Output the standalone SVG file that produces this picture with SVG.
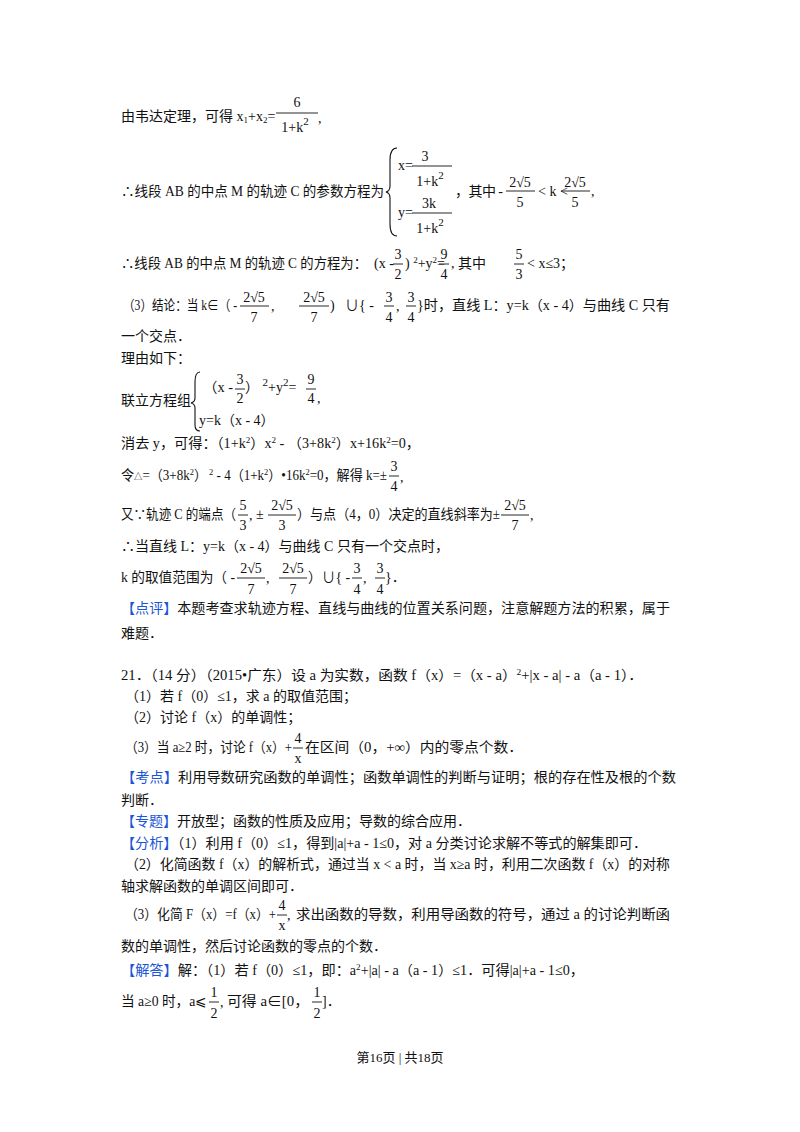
<svg xmlns="http://www.w3.org/2000/svg" width="800" height="1132" viewBox="0 0 800 1132">
<style>
text{font-family:"Liberation Serif","Noto Sans CJK SC",serif;font-size:14px;fill:#111}
.c{text-anchor:middle}
.sm{font-size:13px}
.b{fill:#1a56d6}
.bar{stroke:#111;stroke-width:0.9}
.br{fill:none;stroke:#111;stroke-width:1.1}
</style>
<rect width="800" height="1132" fill="#fff"/>
<text x="121" y="121">由韦达定理，可得 x<tspan font-size="9" dy="2">1</tspan><tspan dy="-2">+x</tspan><tspan font-size="9" dy="2">2</tspan><tspan dy="-2">=</tspan></text>
<text class="c" x="297" y="107">6</text><line class="bar" x1="276" y1="113" x2="318" y2="113"/><text class="c" x="295" y="132">1+k<tspan font-size="11" dy="-7">2</tspan></text><text x="318" y="123">,</text>
<text x="121" y="196" textLength="263" lengthAdjust="spacingAndGlyphs">∴线段 AB 的中点 M 的轨迹 C 的参数方程为</text>
<path class="br" d="M397,148 Q390,148 390,160 L390,186 Q390,191 386,192 Q390,193 390,198 L390,224 Q390,236 397,236"/>
<text x="398" y="170">x=</text><text class="c" x="425" y="161">3</text><line class="bar" x1="412" y1="166" x2="452" y2="166"/><text class="c" x="430" y="186">1+k<tspan font-size="11" dy="-7">2</tspan></text>
<text x="398" y="217">y=</text><text class="c" x="429" y="208">3k</text><line class="bar" x1="412" y1="213" x2="452" y2="213"/><text class="c" x="430" y="233">1+k<tspan font-size="11" dy="-7">2</tspan></text>
<text x="455" y="196" textLength="48" lengthAdjust="spacing">，其中 -</text>
<text class="c" x="520" y="187">2√5</text><line class="bar" x1="506" y1="191" x2="535" y2="191"/><text class="c" x="520" y="207">5</text>
<text x="538" y="196">&lt; k &lt;</text>
<text class="c" x="575" y="187">2√5</text><line class="bar" x1="561" y1="191" x2="590" y2="191"/><text class="c" x="575" y="207">5</text><text x="591" y="196">,</text>
<text x="121" y="268" textLength="246" lengthAdjust="spacingAndGlyphs">∴线段 AB 的中点 M 的轨迹 C 的方程为：</text>
<text x="374" y="268">(x -</text><text class="c" x="398" y="259">3</text><line class="bar" x1="393" y1="264" x2="403" y2="264"/><text class="c" x="398" y="279">2</text>
<text x="405" y="268">) <tspan font-size="9" dy="-5">2</tspan><tspan dy="5">+y</tspan><tspan font-size="9" dy="-5">2</tspan><tspan dy="5">=</tspan></text>
<text class="c" x="444" y="259">9</text><line class="bar" x1="439" y1="264" x2="449" y2="264"/><text class="c" x="444" y="279">4</text>
<text x="451" y="268">, 其中</text>
<text class="c" x="519" y="259">5</text><line class="bar" x1="514" y1="264" x2="524" y2="264"/><text class="c" x="519" y="279">3</text>
<text x="527" y="268">&lt; x≤3；</text>
<text x="123" y="310" textLength="114" lengthAdjust="spacingAndGlyphs">（3）结论：当 k∈（ -</text>
<text class="c" x="254" y="302">2√5</text><line class="bar" x1="240" y1="306" x2="269" y2="306"/><text class="c" x="254" y="322">7</text><text x="271" y="311">,</text>
<text class="c" x="314" y="302">2√5</text><text x="330" y="310">)</text><line class="bar" x1="299" y1="306" x2="329" y2="306"/><text class="c" x="314" y="322">7</text>
<text x="345" y="310">∪{ -</text>
<text class="c" x="389" y="302">3</text><line class="bar" x1="384" y1="306" x2="394" y2="306"/><text class="c" x="389" y="322">4</text><text x="396" y="311">,</text>
<text class="c" x="411" y="302">3</text><line class="bar" x1="406" y1="306" x2="416" y2="306"/><text class="c" x="411" y="322">4</text>
<text x="417" y="310" textLength="253" lengthAdjust="spacingAndGlyphs">}时，直线 L：y=k（x - 4）与曲线 C 只有</text>
<text x="121" y="341">一个交点．</text>
<text x="121" y="363">理由如下：</text>
<text x="121" y="405">联立方程组</text>
<path class="br" d="M200,372 Q195,372 195,382 L195,398 Q195,402 191,403 Q195,404 195,408 L195,425 Q195,431 200,431"/>
<text x="203" y="392" textLength="30" lengthAdjust="spacingAndGlyphs">（x -</text><text class="c" x="240" y="384">3</text><line class="bar" x1="235" y1="389" x2="245" y2="389"/><text class="c" x="240" y="403">2</text>
<text x="245" y="392">） <tspan font-size="11" dy="-6">2</tspan><tspan dy="6">+y</tspan><tspan font-size="11" dy="-6">2</tspan><tspan dy="6">=</tspan></text>
<text class="c" x="311" y="384">9</text><line class="bar" x1="306" y1="389" x2="316" y2="389"/><text class="c" x="311" y="403">4</text><text x="317" y="403">,</text>
<text x="199" y="425">y=k（x - 4）</text>
<text x="121" y="448" textLength="299" lengthAdjust="spacingAndGlyphs">消去 y，可得：（1+k<tspan font-size="9" dy="-5">2</tspan><tspan dy="5">）x</tspan><tspan font-size="9" dy="-5">2</tspan><tspan dy="5"> - （3+8k</tspan><tspan font-size="9" dy="-5">2</tspan><tspan dy="5">）x+16k</tspan><tspan font-size="9" dy="-5">2</tspan><tspan dy="5">=0，</tspan></text>
<text x="121" y="480" textLength="266" lengthAdjust="spacingAndGlyphs">令<tspan font-size="9">△</tspan>=（3+8k<tspan font-size="9" dy="-5">2</tspan><tspan dy="5">）</tspan><tspan font-size="9" dy="-5"> 2</tspan><tspan dy="5"> - 4（1+k</tspan><tspan font-size="9" dy="-5">2</tspan><tspan dy="5">）•16k</tspan><tspan font-size="9" dy="-5">2</tspan><tspan dy="5">=0，解得 k=±</tspan></text>
<text class="c" x="394" y="471">3</text><line class="bar" x1="389" y1="476" x2="399" y2="476"/><text class="c" x="394" y="491">4</text><text x="400" y="482">,</text>
<text x="121" y="519" textLength="115" lengthAdjust="spacingAndGlyphs">又∵轨迹 C 的端点（</text>
<text class="c" x="243" y="510">5</text><line class="bar" x1="238" y1="515" x2="248" y2="515"/><text class="c" x="243" y="530">3</text><text x="249" y="520">,</text>
<text x="256" y="519">±</text><text class="c" x="282" y="510">2√5</text><line class="bar" x1="268" y1="515" x2="296" y2="515"/><text class="c" x="282" y="530">3</text>
<text x="297" y="519" textLength="203" lengthAdjust="spacingAndGlyphs">）与点（4，0）决定的直线斜率为±</text>
<text class="c" x="515" y="510">2√5</text><line class="bar" x1="501" y1="515" x2="529" y2="515"/><text class="c" x="515" y="530">7</text><text x="530" y="520">,</text>
<text x="121" y="551">∴当直线 L：y=k（x - 4）与曲线 C 只有一个交点时，</text>
<text x="121" y="582" textLength="114" lengthAdjust="spacingAndGlyphs">k 的取值范围为（ -</text>
<text class="c" x="251" y="573">2√5</text><line class="bar" x1="237" y1="578" x2="265" y2="578"/><text class="c" x="251" y="594">7</text><text x="266" y="583">,</text>
<text class="c" x="293" y="573">2√5</text><line class="bar" x1="279" y1="578" x2="307" y2="578"/><text class="c" x="293" y="594">7</text>
<text x="308" y="582" textLength="42" lengthAdjust="spacingAndGlyphs">）∪{ -</text>
<text class="c" x="357" y="573">3</text><line class="bar" x1="352" y1="578" x2="362" y2="578"/><text class="c" x="357" y="594">4</text><text x="363" y="583">,</text>
<text class="c" x="380" y="573">3</text><line class="bar" x1="375" y1="578" x2="385" y2="578"/><text class="c" x="380" y="594">4</text><text x="385" y="582">}．</text>
<text x="121" y="613" textLength="549" lengthAdjust="spacingAndGlyphs"><tspan class="b">【点评】</tspan>本题考查求轨迹方程、直线与曲线的位置关系问题，注意解题方法的积累，属于</text>
<text x="121" y="638">难题．</text>
<text x="121" y="680" textLength="522" lengthAdjust="spacingAndGlyphs">21．（14 分）（2015•广东）设 a 为实数，函数 f（x）=（x - a）<tspan font-size="9" dy="-5">2</tspan><tspan dy="5">+|x - a| - a（a - 1）．</tspan></text>
<text x="125" y="701">（1）若 f（0）≤1，求 a 的取值范围；</text>
<text x="125" y="722">（2）讨论 f（x）的单调性；</text>
<text x="125" y="752" textLength="167" lengthAdjust="spacingAndGlyphs">（3）当 a≥2 时，讨论 f（x）+</text>
<text class="c" x="298" y="743">4</text><line class="bar" x1="293" y1="748" x2="303" y2="748"/><text class="c" x="298" y="763">x</text>
<text x="305" y="752" textLength="218" lengthAdjust="spacingAndGlyphs">在区间（0，+∞）内的零点个数．</text>
<text x="121" y="782" textLength="555" lengthAdjust="spacingAndGlyphs"><tspan class="b">【考点】</tspan>利用导数研究函数的单调性；函数单调性的判断与证明；根的存在性及根的个数</text>
<text x="121" y="805">判断．</text>
<text x="121" y="826"><tspan class="b">【专题】</tspan>开放型；函数的性质及应用；导数的综合应用．</text>
<text x="121" y="848" textLength="526" lengthAdjust="spacingAndGlyphs"><tspan class="b">【分析】</tspan>（1）利用 f（0）≤1，得到|a|+a - 1≤0，对 a 分类讨论求解不等式的解集即可．</text>
<text x="125" y="869" textLength="545" lengthAdjust="spacingAndGlyphs">（2）化简函数 f（x）的解析式，通过当 x &lt; a 时，当 x≥a 时，利用二次函数 f（x）的对称</text>
<text x="121" y="891">轴求解函数的单调区间即可．</text>
<text x="125" y="919" textLength="151" lengthAdjust="spacingAndGlyphs">（3）化简 F（x）=f（x）+</text>
<text class="c" x="282" y="910">4</text><line class="bar" x1="277" y1="915" x2="287" y2="915"/><text class="c" x="282" y="930">x</text><text x="287" y="920">,</text>
<text x="296" y="919" textLength="374" lengthAdjust="spacingAndGlyphs">求出函数的导数，利用导函数的符号，通过 a 的讨论判断函</text>
<text x="121" y="951">数的单调性，然后讨论函数的零点的个数．</text>
<text x="121" y="975" textLength="463" lengthAdjust="spacingAndGlyphs"><tspan class="b">【解答】</tspan>解：（1）若 f（0）≤1，即：a<tspan font-size="9" dy="-5">2</tspan><tspan dy="5">+|a| - a（a - 1）≤1．可得|a|+a - 1≤0，</tspan></text>
<text x="121" y="1006" textLength="86" lengthAdjust="spacingAndGlyphs">当 a≥0 时，a⩽</text>
<text class="c" x="214" y="997">1</text><line class="bar" x1="209" y1="1002" x2="219" y2="1002"/><text class="c" x="214" y="1018">2</text><text x="220" y="1007">,</text>
<text x="227" y="1006" textLength="82" lengthAdjust="spacingAndGlyphs">可得 a∈[0，</text>
<text class="c" x="317" y="997">1</text><line class="bar" x1="312" y1="1002" x2="322" y2="1002"/><text class="c" x="317" y="1018">2</text><text x="322" y="1006">]．</text>
<text class="c sm" x="400" y="1062">第16页 | 共18页</text>
</svg>
